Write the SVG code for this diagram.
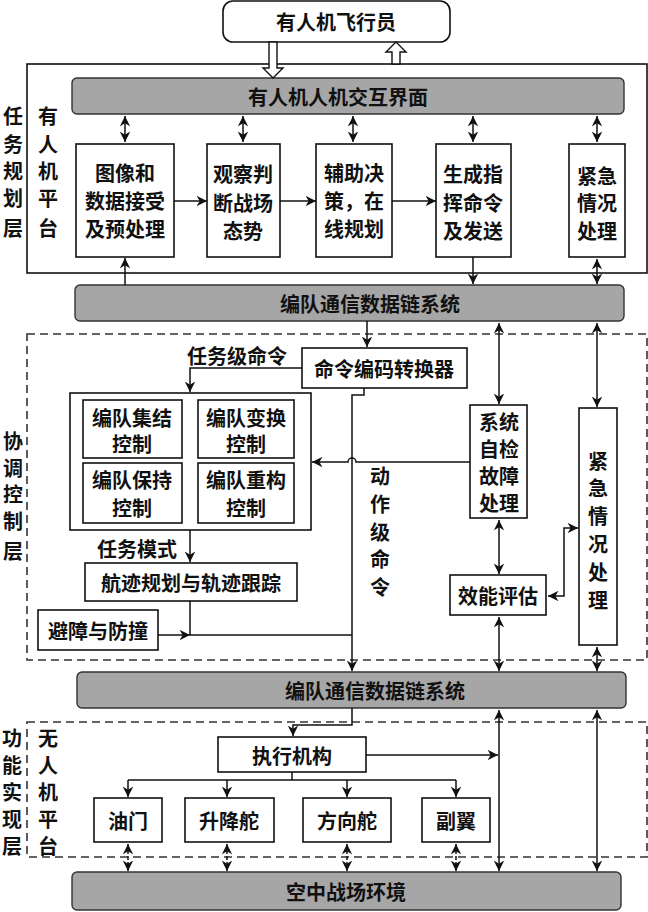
<svg xmlns="http://www.w3.org/2000/svg" width="648" height="912" viewBox="0 0 648 912">
<defs>
<marker id="a" viewBox="0 0 10 10" refX="10" refY="5" markerWidth="7" markerHeight="7" orient="auto-start-reverse"><path d="M0,0 L10,5 L0,10 L3,5 z" fill="#111"/></marker>
<style>
text{font-family:"Noto Sans CJK SC","Liberation Sans",sans-serif;font-weight:bold;font-size:20px;fill:#111;text-anchor:middle;dominant-baseline:central}
.b{fill:#fff;stroke:#111;stroke-width:1.6}
.g{fill:#a6a6a6;stroke:#333;stroke-width:1.4}
.d{fill:none;stroke:#333;stroke-width:1.6;stroke-dasharray:8,5}
.l{fill:none;stroke:#111;stroke-width:1.5}
.e{marker-end:url(#a)}
.s{marker-start:url(#a)}
</style>
</defs>
<rect width="648" height="912" fill="#fff"/>
<g id="frames">
<rect x="27" y="64" width="620" height="209" class="b"/>
<rect x="27" y="334" width="620" height="326" class="d"/>
<rect x="27" y="722" width="620" height="135" class="d"/>
</g>
<g id="layer-labels">
<text x="13" y="115">任</text><text x="13" y="143">务</text><text x="13" y="170">规</text><text x="13" y="197">划</text><text x="13" y="227">层</text>
<text x="48" y="115">有</text><text x="48" y="143">人</text><text x="48" y="170">机</text><text x="48" y="197">平</text><text x="48" y="227">台</text>
<text x="13" y="440">协</text><text x="13" y="467">调</text><text x="13" y="493">控</text><text x="13" y="520">制</text><text x="13" y="550">层</text>
<text x="12" y="737">功</text><text x="12" y="764">能</text><text x="12" y="791">实</text><text x="12" y="818">现</text><text x="12" y="845">层</text>
<text x="48" y="737">无</text><text x="48" y="764">人</text><text x="48" y="791">机</text><text x="48" y="818">平</text><text x="48" y="845">台</text>
</g>
<g id="pilot"><rect x="223" y="1" width="227" height="41" rx="10" class="b"/><text x="336" y="21">有人机飞行员</text></g>
<g id="hmi"><rect x="72" y="78" width="552" height="36" rx="5" class="g"/><text x="338" y="96">有人机人机交互界面</text></g>
<g id="n1"><rect x="76" y="144" width="98" height="113" class="b"/><text x="125" y="172">图像和</text><text x="125" y="200">数据接受</text><text x="125" y="228">及预处理</text></g>
<g id="n2"><rect x="207" y="144" width="73" height="113" class="b"/><text x="243" y="173">观察判</text><text x="243" y="202">断战场</text><text x="243" y="230">态势</text></g>
<g id="n3"><rect x="316" y="144" width="76" height="113" class="b"/><text x="354" y="172">辅助决</text><text x="354" y="200">策，在</text><text x="354" y="228">线规划</text></g>
<g id="n4"><rect x="436" y="144" width="75" height="113" class="b"/><text x="473" y="173">生成指</text><text x="473" y="202">挥命令</text><text x="473" y="230">及发送</text></g>
<g id="n5"><rect x="569" y="144" width="56" height="113" class="b"/><text x="597" y="175">紧急</text><text x="597" y="202">情况</text><text x="597" y="230">处理</text></g>
<g id="link1"><rect x="75" y="285" width="549" height="36" rx="5" class="g"/><text x="370" y="303">编队通信数据链系统</text></g>
<g id="encoder"><rect x="302" y="348" width="165" height="40" class="b"/><text x="384" y="368">命令编码转换器</text></g>
<g id="formation"><rect x="70" y="393" width="241" height="137" class="b"/>
<rect x="83" y="400" width="99" height="58" class="b"/><text x="132" y="417">编队集结</text><text x="132" y="443">控制</text>
<rect x="198" y="400" width="96" height="58" class="b"/><text x="246" y="417">编队变换</text><text x="246" y="443">控制</text>
<rect x="83" y="463" width="99" height="60" class="b"/><text x="132" y="479">编队保持</text><text x="132" y="507">控制</text>
<rect x="198" y="463" width="96" height="60" class="b"/><text x="246" y="479">编队重构</text><text x="246" y="507">控制</text></g>
<g id="track"><rect x="85" y="563" width="212" height="38" class="b"/><text x="191" y="582">航迹规划与轨迹跟踪</text></g>
<g id="avoid"><rect x="38" y="610" width="120" height="40" class="b"/><text x="98" y="630">避障与防撞</text></g>
<g id="selfcheck"><rect x="470" y="405" width="57" height="113" class="b"/><text x="499" y="421">系统</text><text x="499" y="448">自检</text><text x="499" y="475">故障</text><text x="499" y="502">处理</text></g>
<g id="eval"><rect x="450" y="575" width="96" height="40" class="b"/><text x="498" y="595">效能评估</text></g>
<g id="emerg2"><rect x="579" y="408" width="38" height="237" class="b"/><text x="598" y="460">紧</text><text x="598" y="487">急</text><text x="598" y="515">情</text><text x="598" y="543">况</text><text x="598" y="571">处</text><text x="598" y="599">理</text></g>
<g id="link2"><rect x="77" y="672" width="549" height="36" rx="5" class="g"/><text x="375" y="690">编队通信数据链系统</text></g>
<g id="actuator"><rect x="218" y="737" width="148" height="35" class="b"/><text x="292" y="755">执行机构</text></g>
<g id="throttle"><rect x="94" y="798" width="68" height="44" class="b"/><text x="128" y="820">油门</text></g>
<g id="elevator"><rect x="185" y="798" width="89" height="44" class="b"/><text x="229" y="820">升降舵</text></g>
<g id="rudder"><rect x="303" y="798" width="88" height="44" class="b"/><text x="347" y="820">方向舵</text></g>
<g id="aileron"><rect x="422" y="798" width="68" height="44" class="b"/><text x="456" y="820">副翼</text></g>
<g id="env"><rect x="72" y="872" width="549" height="38" rx="5" class="g"/><text x="346" y="891">空中战场环境</text></g>
<g id="labels">
<text x="237" y="355">任务级命令</text>
<text x="137" y="548">任务模式</text>
<text x="380" y="475">动</text><text x="380" y="503">作</text><text x="380" y="531">级</text><text x="380" y="558">命</text><text x="380" y="586">令</text>
</g>
<g id="connectors">
<path d="M269,42 V68 H263 L273,78 L283,68 H277 V42 Z" fill="#fff" stroke="#111" stroke-width="1.4"/>
<path d="M392,64 V52 H386 L396,42 L406,52 H400 V64 Z" fill="#fff" stroke="#111" stroke-width="1.4"/>
<path d="M125,116 V142" class="l e s"/><path d="M243,116 V142" class="l e s"/><path d="M353,116 V142" class="l e s"/><path d="M473,116 V142" class="l e s"/><path d="M597,116 V142" class="l e s"/>
<path d="M174,201 H207" class="l e"/><path d="M280,201 H316" class="l e"/><path d="M392,201 H436" class="l e"/>
<path d="M125,285 V258" class="l e"/><path d="M473,257 V284" class="l e"/><path d="M597,259 V284" class="l e s"/>
<path d="M367,321 V347" class="l e"/>
<path d="M302,368 H190 V392" class="l e"/>
<path d="M364,388 V395 H352 V671" class="l e"/>
<path d="M470,462 H356 A4,4 0 0 0 348,462 H312" class="l e"/>
<path d="M499,323 V404" class="l e s"/>
<path d="M597,323 V407" class="l e s"/>
<path d="M499,520 V574" class="l e s"/>
<path d="M499,617 V671" class="l e s"/>
<path d="M597,647 V671" class="l e s"/>
<path d="M548,596 H564 V528 H578" class="l e s"/>
<path d="M190,530 V562" class="l e"/>
<path d="M190,601 V635" class="l"/>
<path d="M158,635 H190" class="l e"/><path d="M190,635 H352" class="l"/>
<path d="M352,708 V725 H293 V736" class="l e"/>
<path d="M366,755 H498" class="l e"/>
<path d="M292,772 V780" class="l"/><path d="M128,780 H456" class="l"/>
<path d="M128,780 V797" class="l e"/><path d="M227,780 V797" class="l e"/><path d="M347,780 V797" class="l e"/><path d="M456,780 V797" class="l e"/>
<path d="M128,844 V871" class="l e s" stroke-dasharray="4,2"/><path d="M227,844 V871" class="l e s" stroke-dasharray="4,2"/><path d="M347,844 V871" class="l e s" stroke-dasharray="4,2"/><path d="M456,844 V871" class="l e s" stroke-dasharray="4,2"/>
<path d="M499,710 V871" class="l e s"/><path d="M597,710 V871" class="l e s"/>
</g>
</svg>
